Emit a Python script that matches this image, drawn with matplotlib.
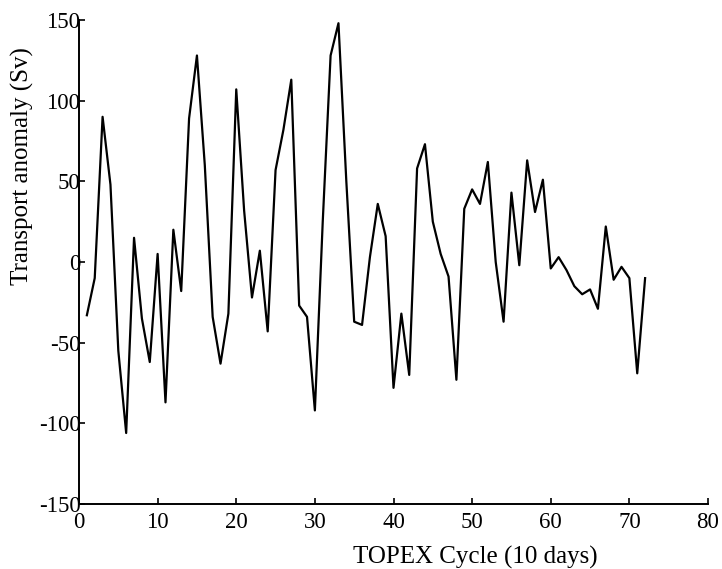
import matplotlib

matplotlib.use("Agg")
import matplotlib.pyplot as plt

# TOPEX cycle number and transport anomaly (Sv)
cycle = list(range(1, 73))
transport = [
    -33, -10, 90, 48, -55, -106, 15, -35, -62, 5,
    -87, 20, -18, 89, 128, 60, -34, -63, -32, 107,
    32, -22, 7, -43, 57, 82, 113, -27, -34, -92,
    25, 128, 148, 50, -37, -39, 3, 36, 16, -78,
    -32, -70, 58, 73, 25, 5, -9, -73, 33, 45,
    36, 62, 0, -37, 43, -2, 63, 31, 51, -4,
    3, -5, -15, -20, -17, -29, 22, -11, -3, -10,
    -69, -10,
]

x_ticks = [0, 10, 20, 30, 40, 50, 60, 70, 80]
y_ticks = [-150, -100, -50, 0, 50, 100, 150]

plt.rcParams["font.family"] = ["Liberation Serif", "DejaVu Serif"]
plt.rcParams["axes.unicode_minus"] = False

fig = plt.figure(figsize=(7.22, 5.69), dpi=100)
ax = fig.add_axes([79 / 722, 65 / 569, 629 / 722, 484 / 569])

ax.plot(cycle, transport, color="black", linewidth=1.6)

ax.set_xlim(0, 80)
ax.set_ylim(-150, 150)
ax.set_xticks(x_ticks)
ax.set_yticks(y_ticks)
ax.tick_params(direction="in", length=4, width=1.2, labelsize=16.5)
ax.tick_params(axis="x", pad=6)
ax.tick_params(axis="y", pad=-1)

for side in ("top", "right"):
    ax.spines[side].set_visible(False)
for side in ("left", "bottom"):
    ax.spines[side].set_linewidth(1.4)

ax.set_xlabel("TOPEX Cycle (10 days)", fontsize=18)
ax.xaxis.set_label_coords(0.63, -0.087)
ax.set_ylabel("Transport anomaly (Sv)", fontsize=18)
ax.yaxis.set_label_coords(-0.072, 0.698)

fig.savefig("out.png", dpi=100)
